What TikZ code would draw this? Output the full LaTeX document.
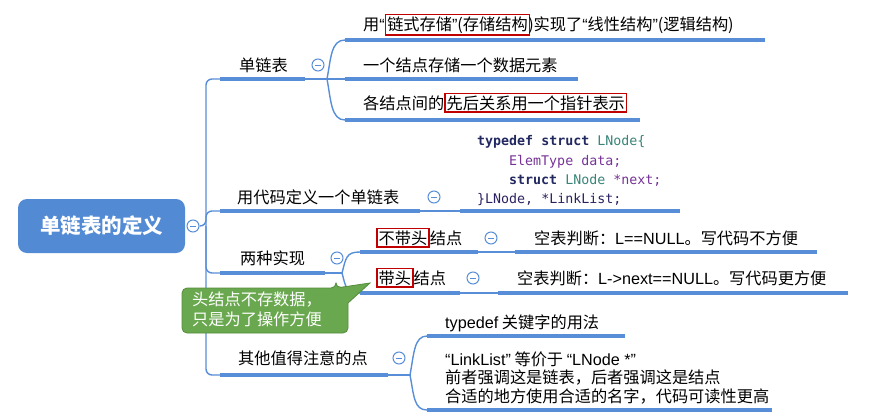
\documentclass[tikz,border=0pt]{standalone}
\usepackage{fontspec}
\setmainfont{Noto Sans CJK SC}
\setmonofont{DejaVu Sans Mono}
\newfontfamily\quotefont{Liberation Sans}
\definecolor{barblue}{RGB}{88,142,216}
\definecolor{rootblue}{RGB}{82,138,212}
\definecolor{markred}{RGB}{192,0,0}
\definecolor{notegreen}{RGB}{106,168,79}
\definecolor{notedark}{RGB}{84,140,60}
\definecolor{kwnavy}{RGB}{34,40,96}
\definecolor{typeteal}{RGB}{56,132,120}
\definecolor{idpurple}{RGB}{118,50,150}
\definecolor{lastnavy}{RGB}{44,32,96}
\newcommand{\redmark}[1]{{\color{markred}\fboxrule=1.5pt\fboxsep=1pt\fbox{\color{black}#1}}}
\newcommand{\lqm}{{\quotefont “}}
\newcommand{\rqm}{{\quotefont ”}}
\newcommand{\lat}[1]{{\quotefont #1}}

\tikzset{
  root/.style={rounded corners=9pt, fill=rootblue, text=white,
    font=\bfseries\fontsize{20.5}{24}\selectfont, minimum width=167pt, minimum height=54pt},
  topic/.style={anchor=base west, inner sep=0pt, font=\fontsize{16.2}{18.5}\selectfont},
  code/.style={anchor=base west, inner sep=0pt, font=\ttfamily\fontsize{13.3}{19}\selectfont},
  bar/.style={barblue, line width=4pt},
  link/.style={barblue, line width=1.4pt},
  fold/.style={circle, draw=barblue, fill=white, line width=1pt, minimum size=12pt, inner sep=0pt,
    path picture={\draw[barblue, line width=1pt]
      ([xshift=-3pt]path picture bounding box.center) -- ([xshift=3pt]path picture bounding box.center);}},
  notebody/.style={fill=notegreen, draw=notedark, line width=0.8pt},
  note/.style={text=white, text width=148pt, align=left, inner sep=0pt,
    font=\fontsize{16.2}{20}\selectfont}
}

\begin{document}
\begin{tikzpicture}[x=1pt, y=-1pt]
  \useasboundingbox (0,0) rectangle (870,418);

  % Root
  \node[root] (root) at (101.5,226) {单链表的定义};
  \node[fold] (f0) at (193,226) {};
  \coordinate (trunk) at (206,226);

  % Bars (underlines)
  \coordinate (l1a) at (220,79);  \coordinate (l1b) at (305,79);
  \coordinate (l2a) at (220,211); \coordinate (l2b) at (420,211);
  \coordinate (l3a) at (220,273); \coordinate (l3b) at (325,273);
  \coordinate (l4a) at (220,375); \coordinate (l4b) at (388,375);
  \coordinate (c11a) at (345,40);  \coordinate (c11b) at (765,40);
  \coordinate (c12a) at (345,79);  \coordinate (c12b) at (578,79);
  \coordinate (c13a) at (345,120); \coordinate (c13b) at (640,120);
  \coordinate (c21a) at (460,211); \coordinate (c21b) at (680,211);
  \coordinate (c31a) at (360,252); \coordinate (c31b) at (478,252);
  \coordinate (c311a) at (515,252); \coordinate (c311b) at (817,252);
  \coordinate (c32a) at (360,293); \coordinate (c32b) at (460,293);
  \coordinate (c321a) at (498,293); \coordinate (c321b) at (848,293);
  \coordinate (c41a) at (427,336); \coordinate (c41b) at (625,336);
  \coordinate (c42a) at (427,410); \coordinate (c42b) at (772,410);
  \coordinate (j1) at (327,79);
  \coordinate (j3) at (342,273);
  \coordinate (j4) at (410,375);

  % Connectors
  \draw[link, rounded corners=6pt] (f0.east) -- (trunk) |- (l1a);
  \draw[link, rounded corners=6pt] (trunk) |- (l4a);
  \draw[link, rounded corners=6pt] (trunk) |- (l2a);
  \draw[link, rounded corners=6pt] (trunk) |- (l3a);
  \draw[link] (l1b) -- (c12a);
  \draw[link] (j1) .. controls (331,58) and (331,40) .. (c11a);
  \draw[link] (j1) .. controls (331,100) and (331,120) .. (c13a);
  \draw[link] (l2b) -- (c21a);
  \draw[link] (l3b) -- (j3);
  \draw[link] (j3) .. controls (346,258) and (346,252) .. (c31a);
  \draw[link] (j3) .. controls (346,288) and (346,293) .. (c32a);
  \draw[link] (c31b) -- (c311a);
  \draw[link] (c32b) -- (c321a);
  \draw[link] (l4b) -- (j4);
  \draw[link] (j4) .. controls (414,354) and (414,336) .. (c41a);
  \draw[link] (j4) .. controls (414,396) and (414,410) .. (c42a);
  \foreach \b in {l1,l2,l3,l4,c11,c12,c13,c21,c31,c311,c32,c321,c41,c42}
    \draw[bar] (\b a) -- (\b b);

  % Fold markers
  \node[fold] (f1) at (318,65) {};
  \node[fold] (f2) at (434,197) {};
  \node[fold] (f3) at (337,258) {};
  \node[fold] (f31) at (491,238) {};
  \node[fold] (f32) at (473,278) {};
  \node[fold] (f4) at (399,358) {};

  % Topics
  \node[topic] (t1) at (239,71) {单链表};
  \node[topic] (t11) at (363,30) {用\lqm\redmark{链式存储\rqm(存储结构}\hspace{-2pt})实现了\lqm 线性结构\rqm(逻辑结构)};
  \node[topic] (t12) at (363,71) {一个结点存储一个数据元素};
  \node[topic] (t13) at (363,109) {各结点间的\redmark{先后关系用一个指针表示}};
  \node[topic] (t2) at (237,203) {用代码定义一个单链表};
  \node[code] (code1) at (477,145) {{\bfseries\color{kwnavy}typedef struct} {\color{typeteal}LNode\{}};
  \node[code] (code2) at (509,165) {\color{idpurple}ElemType data;};
  \node[code] (code3) at (509,184) {{\bfseries\color{kwnavy}struct} {\color{typeteal}LNode} {\color{idpurple}*next;}};
  \node[code] (code4) at (477,203) {\color{lastnavy}\}LNode, *LinkList;};
  \node[topic] (t3) at (240,264) {两种实现};
  \node[topic] (t31) at (376,244) {\redmark{不带头}结点};
  \node[topic] (t311) at (534,244) {空表判断：\lat{L==NULL}。写代码不方便};
  \node[topic] (t32) at (376,284) {\redmark{带头}结点};
  \node[topic] (t321) at (517,284) {空表判断：\lat{L->next==NULL}。写代码更方便};
  \node[topic] (t4) at (238,364) {其他值得注意的点};
  \node[topic] (t41) at (445,328) {\lat{typedef} 关键字的用法};
  \node[topic, align=left] (t42) at (445,402)
    {\lqm\lat{LinkList}\rqm{} 等价于 \lqm\lat{LNode *}\rqm\\前者强调这是链表，后者强调这是结点\\合适的地方使用合适的名字，代码可读性更高};

  % Callout
  \draw[notebody] (336,288) -- (370,283) -- (348,303) [rounded corners=5pt] -- (348,333)
    -- (182,333) -- (182,288) -- (336,288) -- cycle;
  \node[note, anchor=north west] (hint) at (192,292) {头结点不存数据，\\只是为了操作方便};
\end{tikzpicture}
\end{document}
